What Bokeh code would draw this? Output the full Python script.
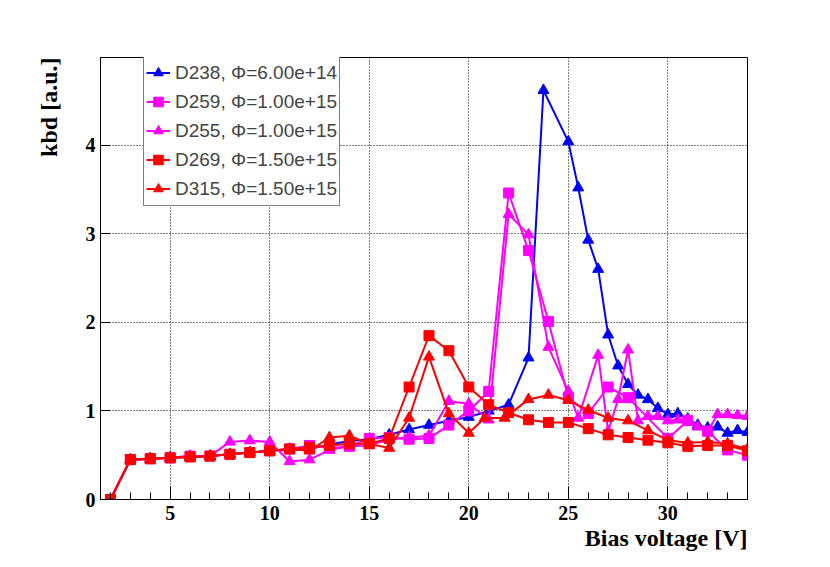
import math
from bokeh.plotting import figure
from bokeh.models import Range1d, SingleIntervalTicker, Legend, LegendItem, Title
from bokeh.embed import file_html
from bokeh.resources import INLINE

# ---- data ----
d238_v = [2, 3, 4, 5, 6, 7, 8, 9, 10, 11, 12, 13, 14, 15, 16, 17, 18, 19, 20, 21, 22, 23,
          23.75, 25, 25.5, 26, 26.5, 27, 27.5, 28, 28.5, 29, 29.5, 30, 30.5, 31, 31.5,
          32, 32.5, 33, 33.5, 34]
d238_k = [0, 0.45, 0.46, 0.47, 0.48, 0.49, 0.51, 0.53, 0.55, 0.56, 0.57, 0.62, 0.66, 0.68,
          0.73, 0.79, 0.84, 0.89, 0.93, 1.00, 1.07, 1.60, 4.62, 4.04, 3.52, 2.93, 2.60,
          1.86, 1.51, 1.30, 1.18, 1.13, 1.03, 0.96, 0.97, 0.91, 0.84, 0.81, 0.82, 0.75,
          0.78, 0.76]

d259_v = [2, 3, 4, 5, 6, 7, 8, 9, 10, 11, 12, 13, 14, 15, 16, 17, 18, 19, 20, 21, 22, 23,
          24, 25, 26, 27, 28, 30, 31, 32, 33, 34]
d259_k = [0, 0.45, 0.46, 0.47, 0.49, 0.49, 0.51, 0.53, 0.55, 0.57, 0.61, 0.58, 0.60, 0.69,
          0.70, 0.68, 0.69, 0.84, 1.00, 1.22, 3.46, 2.81, 2.01, 1.15, 0.97, 1.27, 1.15,
          0.69, 0.89, 0.77, 0.56, 0.50]

d255_v = [2, 3, 4, 5, 6, 7, 8, 9, 10, 11, 12, 13, 14, 15, 16, 17, 18, 19, 20, 21, 22, 23,
          24, 25, 25.5, 26.5, 27, 27.5, 28, 28.5, 29, 29.5, 30, 30.5, 31, 31.5, 32, 32.5,
          33, 33.5, 34]
d255_k = [0, 0.45, 0.46, 0.47, 0.49, 0.49, 0.65, 0.665, 0.65, 0.43, 0.45, 0.56, 0.60, 0.61,
          0.68, 0.70, 0.72, 1.11, 1.08, 0.90, 3.22, 2.99, 1.72, 1.22, 0.92, 1.63, 0.77,
          1.13, 1.69, 0.89, 0.94, 0.94, 0.89, 0.90, 0.90, 0.82, 0.77, 0.96, 0.96, 0.95,
          0.94]

d269_v = [2, 3, 4, 5, 6, 7, 8, 9, 10, 11, 12, 13, 14, 15, 16, 17, 18, 19, 20, 21, 22, 23,
          24, 25, 26, 27, 28, 29, 30, 31, 32, 33, 34]
d269_k = [0, 0.45, 0.46, 0.47, 0.48, 0.49, 0.51, 0.53, 0.55, 0.57, 0.59, 0.61, 0.63, 0.63,
          0.69, 1.27, 1.85, 1.68, 1.27, 1.07, 0.98, 0.90, 0.87, 0.87, 0.80, 0.73, 0.70,
          0.67, 0.64, 0.60, 0.61, 0.61, 0.55]

d315_v = [2, 3, 4, 5, 6, 7, 8, 9, 10, 11, 12, 13, 14, 15, 16, 17, 18, 19, 20, 20.8, 21.8,
          23, 24, 25, 26, 27, 28, 29, 30, 31, 32, 33, 34]
d315_k = [0, 0.45, 0.46, 0.47, 0.48, 0.49, 0.51, 0.53, 0.55, 0.57, 0.55, 0.70, 0.72, 0.63,
          0.58, 0.92, 1.61, 0.97, 0.75, 0.92, 0.92, 1.13, 1.18, 1.12, 1.01, 0.92, 0.89,
          0.78, 0.67, 0.64, 0.65, 0.63, 0.57]

series = [
    ("D238, \u03a6=6.00e+14", d238_v, d238_k, "#0000ff", "triangle"),
    ("D259, \u03a6=1.00e+15", d259_v, d259_k, "#ff00ff", "square"),
    ("D255, \u03a6=1.00e+15", d255_v, d255_k, "#ff00ff", "triangle"),
    ("D269, \u03a6=1.50e+15", d269_v, d269_k, "#ff0000", "square"),
    ("D315, \u03a6=1.50e+15", d315_v, d315_k, "#ff0000", "triangle"),
]

x_label = "Bias voltage [V]"
y_label = "kbd [a.u.]"

p = figure(width=814, height=551, output_backend="svg", toolbar_location=None,
           x_range=Range1d(1.5, 34), y_range=Range1d(0, 4.99),
           min_border_left=100, min_border_right=67, min_border_top=57,
           min_border_bottom=52)
p.background_fill_color = "white"
p.border_fill_color = "white"
p.outline_line_color = "black"
p.outline_line_width = 1

p.xaxis.ticker = SingleIntervalTicker(interval=5, num_minor_ticks=5)
p.yaxis.ticker = SingleIntervalTicker(interval=1, num_minor_ticks=0)

for ax in (p.xaxis, p.yaxis):
    ax.axis_line_color = "black"
    ax.major_tick_line_color = "black"
    ax.minor_tick_line_color = "black"
    ax.major_tick_out = 0
    ax.minor_tick_out = 0
    ax.major_label_text_font = "Liberation Serif"
    ax.major_label_text_font_style = "bold"
    ax.major_label_text_font_size = "20px"
    ax.major_label_text_color = "black"
p.xaxis.major_tick_in = 13
p.xaxis.minor_tick_in = 7
p.xaxis.major_label_standoff = 6
p.yaxis.major_tick_in = 10
p.yaxis.minor_tick_in = 0
p.yaxis.major_label_standoff = 5

for g in (p.xgrid, p.ygrid):
    g.grid_line_color = "black"
    g.grid_line_dash = "1 2"
    g.grid_line_width = 1

items = []
for name, xs, ys, col, mk in series:
    ln = p.line(xs, ys, line_color=col, line_width=2)
    sc = p.scatter(xs, ys, marker=mk, size=11 if mk == "triangle" else 10,
                   fill_color=col, line_color=col)
    items.append(LegendItem(label=name, renderers=[ln, sc]))

legend = Legend(items=items, location=(43, 293), padding=2, spacing=0,
                label_height=29, glyph_height=29, glyph_width=24, label_standoff=5,
                border_line_color="black", border_line_width=1, margin=0,
                label_text_font="Liberation Sans", label_text_font_size="19px",
                background_fill_color="white", background_fill_alpha=1)
p.add_layout(legend)

p.add_layout(Title(text=x_label, align="right", standoff=0,
                   text_font="Liberation Serif", text_font_style="bold",
                   text_font_size="24px", text_color="black"), "below")
p.add_layout(Title(text=y_label, align="right", standoff=42,
                   text_font="Liberation Serif", text_font_style="bold",
                   text_font_size="24px", text_color="black"), "left")

open("out.html", "w").write(file_html(p, INLINE))
